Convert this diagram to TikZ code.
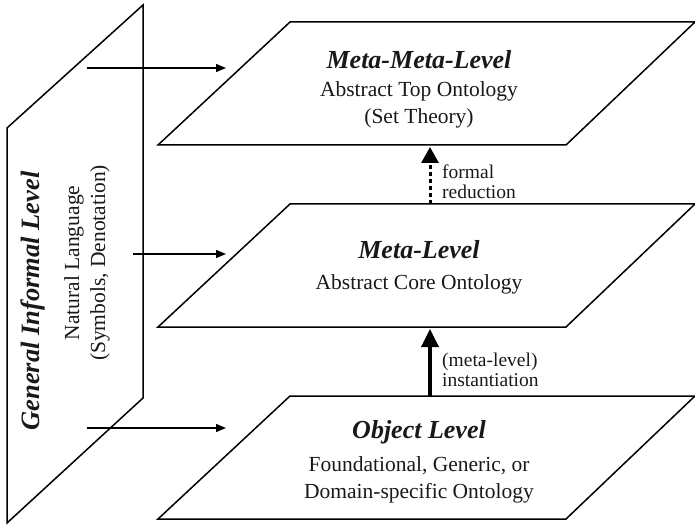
\documentclass[tikz,border=0pt]{standalone}
\usepackage{fontspec}
\setmainfont{Liberation Serif}
\usetikzlibrary{arrows.meta}
\begin{document}
\begin{tikzpicture}[x=1pt,y=-1pt,
  plane/.style={draw=black,line width=1.5pt,line join=miter,fill=white},
  title/.style={inner sep=0pt,font=\fontsize{26}{28}\selectfont\bfseries\itshape,text=black!90},
  body/.style={inner sep=0pt,align=center,font=\fontsize{21.5}{27}\selectfont,text=black!90},
  sidebody/.style={inner sep=0pt,align=center,font=\fontsize{21.5}{26}\selectfont,text=black!90},
  note/.style={inner sep=0pt,align=left,anchor=west,font=\fontsize{19.5}{19.5}\selectfont,text=black!90},
  feed/.style={-{Triangle[length=10pt,width=8pt]},line width=1.3pt},
  reduce/.style={-{Triangle[length=16pt,width=17pt]},line width=3pt,dash pattern=on 4pt off 3pt},
  inst/.style={-{Triangle[length=18pt,width=17pt]},line width=3.5pt}
]
\useasboundingbox (0,0) rectangle (695,526);

% vertical informal plane on the left
\draw[plane] (7,128) -- (143,5) -- (143,398) -- (7,523) -- cycle;
\node[title,rotate=90,font=\fontsize{26.5}{28}\selectfont\bfseries\itshape] (gil) at (33,301) {General Informal Level};
\node[sidebody,rotate=90] (nl) at (87,263) {Natural Language\\(Symbols, Denotation)};

% horizontal planes
\draw[plane] (158,145) -- (290,22) -- (695,22) -- (566,145) -- cycle;
\draw[plane] (158,327) -- (290,204) -- (695,204) -- (566,327) -- cycle;
\draw[plane] (158,519) -- (290,396) -- (695,396) -- (566,519) -- cycle;

\node[title] (mmlT) at (419,60) {Meta-Meta-Level};
\node[body] (mmlB) at (419,105) {Abstract Top Ontology\\(Set Theory)};

\node[title] (mlT) at (419,250) {Meta-Level};
\node[body] (mlB) at (419,284) {Abstract Core Ontology};

\node[title] (olT) at (419,432) {Object Level};
\node[body] (olB) at (419,480) {Foundational, Generic, or\\Domain-specific Ontology};

% connector end points
\coordinate (srcTop) at (87,68);
\coordinate (dstTop) at (226,68);
\coordinate (srcMid) at (133,254);
\coordinate (dstMid) at (226,254);
\coordinate (srcBot) at (87,428);
\coordinate (dstBot) at (226,428);
\coordinate (mmlEdge) at (430,147);
\coordinate (mlUpper) at (430,204);
\coordinate (mlEdge) at (430,329);
\coordinate (olUpper) at (430,396);

% informal language feeding each level
\draw[feed] (srcTop) -- (dstTop);
\draw[feed] (srcMid) -- (dstMid);
\draw[feed] (srcBot) -- (dstBot);

% relations between levels
\draw[reduce] (mlUpper) -- (mmlEdge);
\draw[inst] (olUpper) -- (mlEdge);

\node[note] (red) at (442,181.5) {formal\\reduction};
\node[note] (ins) at (442,370) {(meta-level)\\instantiation};
\end{tikzpicture}
\end{document}
